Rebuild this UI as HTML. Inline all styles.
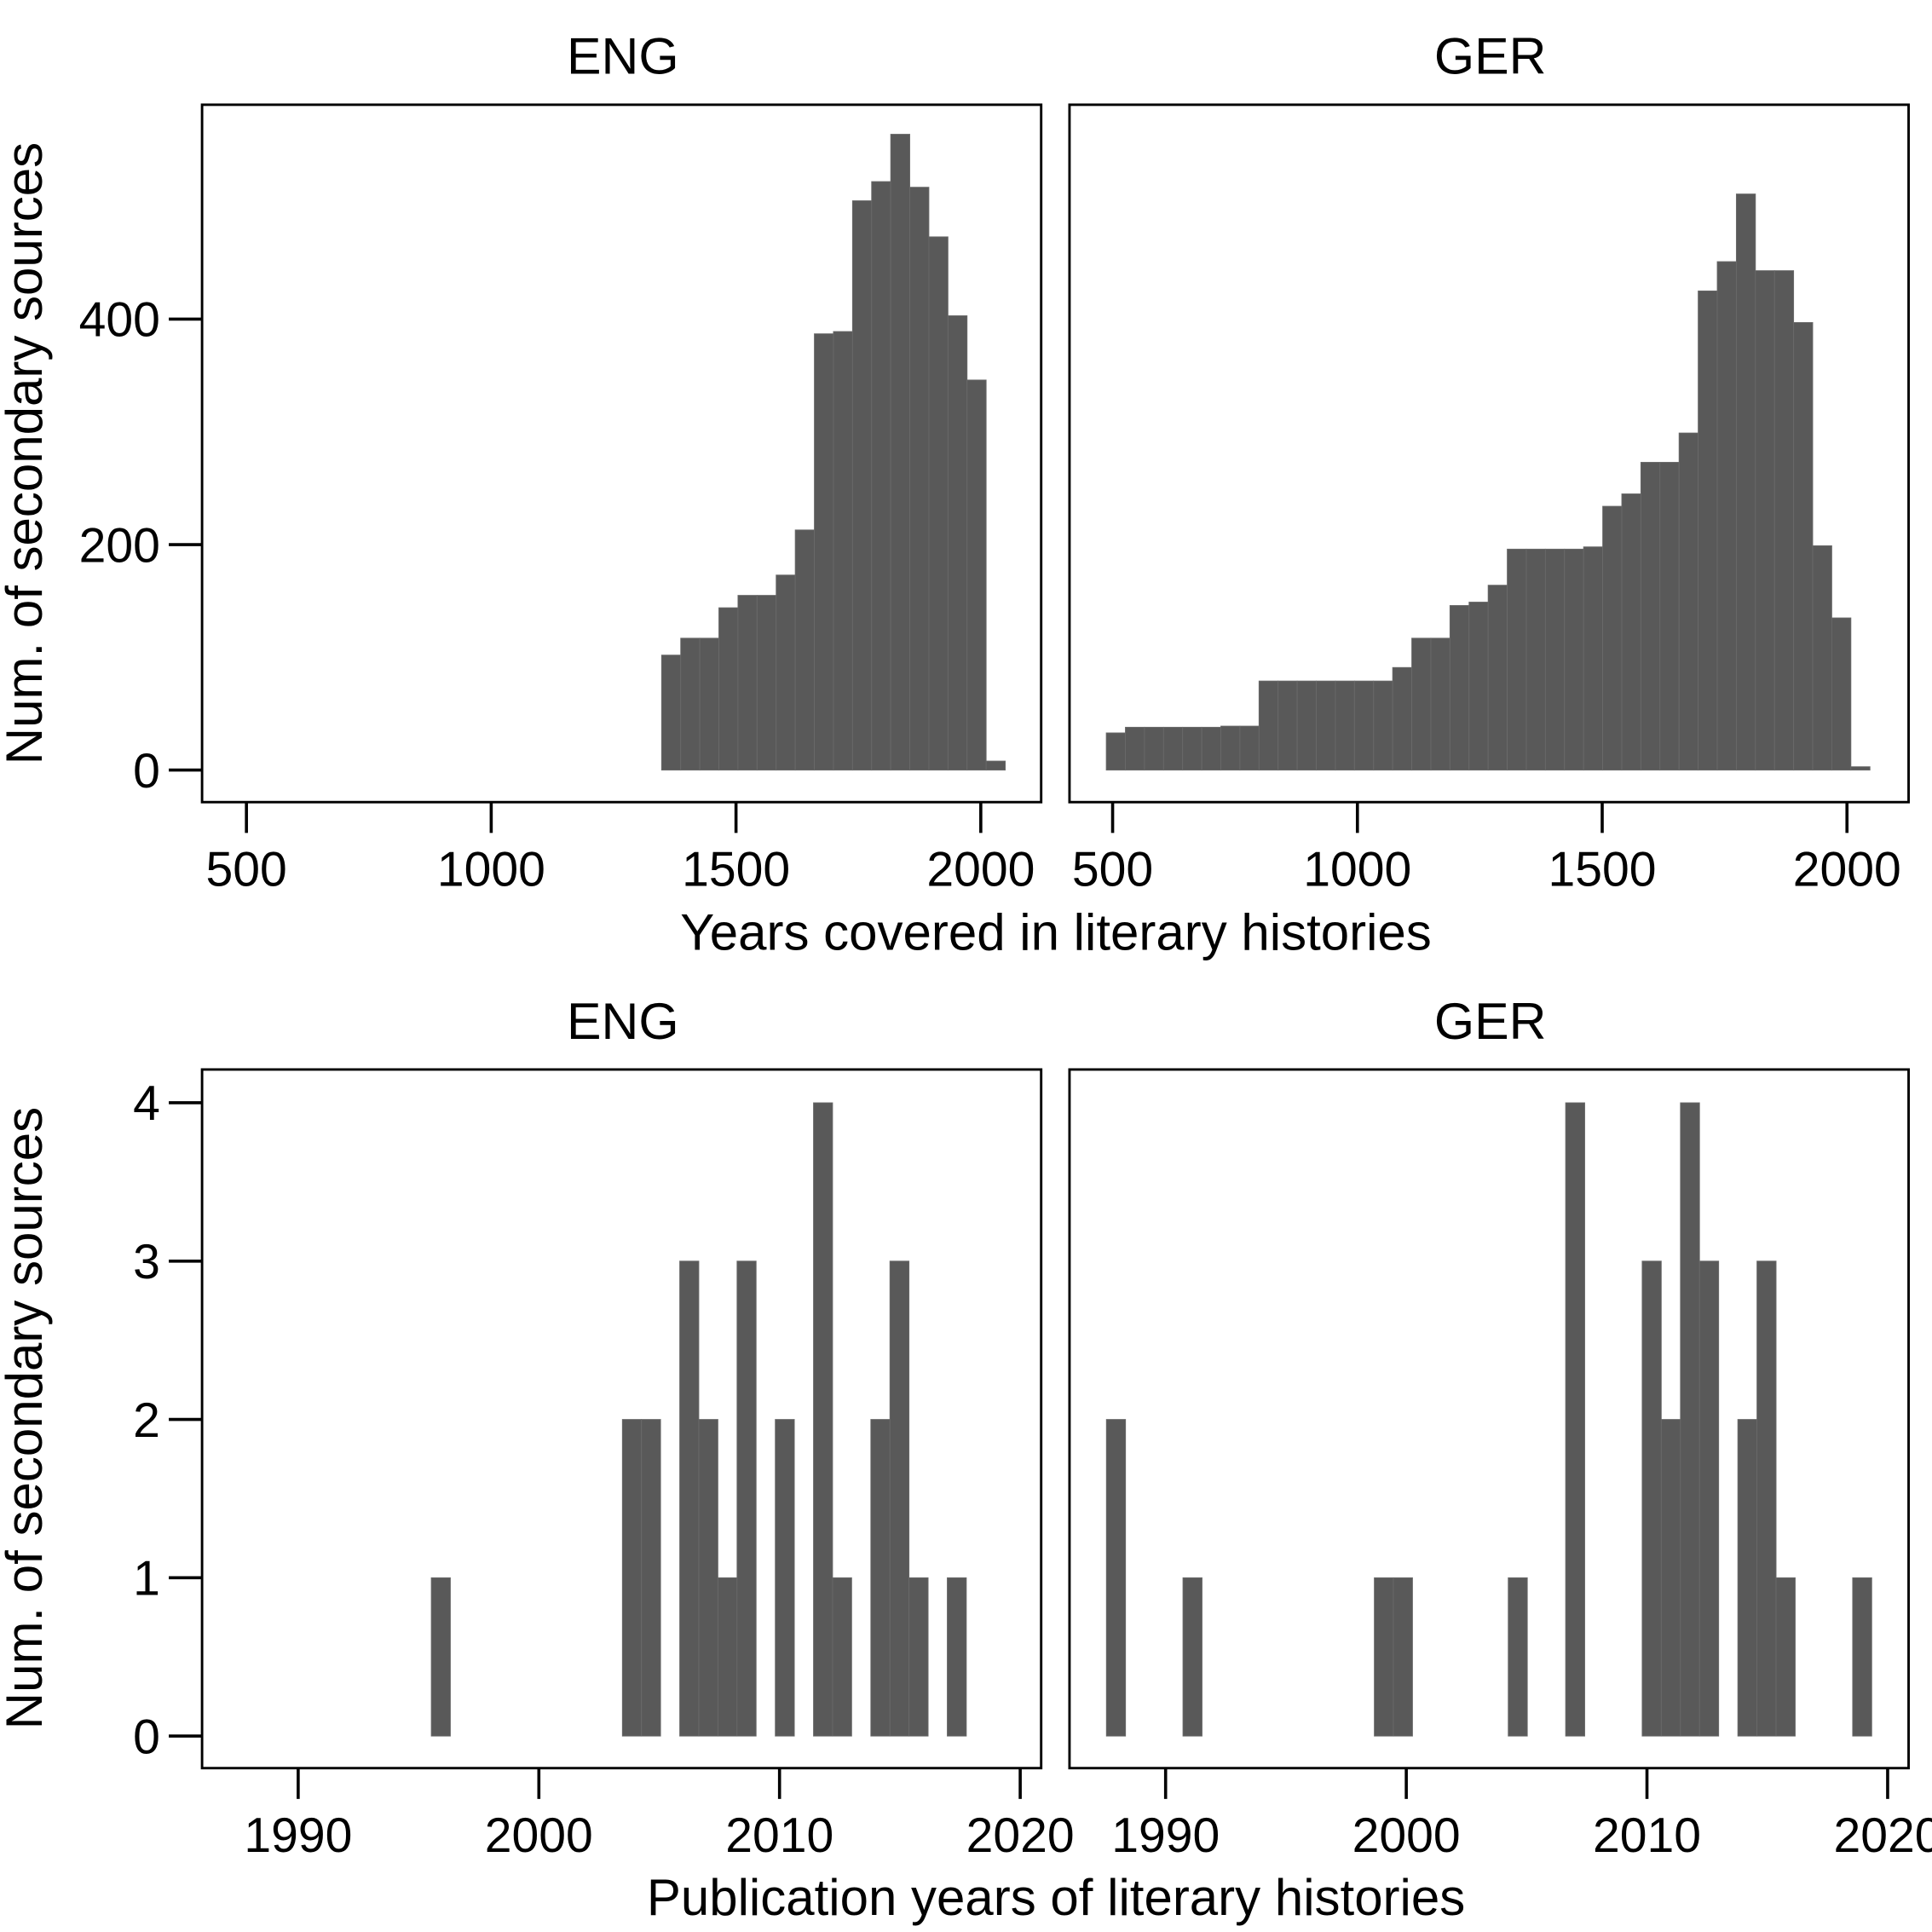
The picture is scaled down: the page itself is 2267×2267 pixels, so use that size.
<!DOCTYPE html>
<html><head><meta charset="utf-8"><style>
html,body{margin:0;padding:0;background:#fff}
svg{display:block}
text{font-family:"Liberation Sans",Arial,sans-serif;fill:#000}
</style></head><body>
<svg id="chart" width="2267" height="2267" viewBox="0 0 1568 1568" xmlns="http://www.w3.org/2000/svg"></svg>
<script>
// ---- data ----
const topXTicks = [500, 1000, 1500, 2000];
const topYTicks = [0, 200, 400];
const engCoveredStart = 1348;
const engCoveredWidth = 39;
const engCoveredCounts = [102,117,117,144,155,155,173,213,387,389,505,522,564,517,473,403,346,8];
const gerCoveredStart = 487;
const gerCoveredWidth = 39;
const gerCoveredCounts = [33,38,38,38,38,38,39,39,79,79,79,79,79,79,79,91,117,117,146,149,164,196,196,196,196,198,234,245,273,273,299,425,451,511,443,443,397,199,135,3];

const botXTicks = [1990, 2000, 2010, 2020];
const botYTicks = [0, 1, 2, 3, 4];
const engPubStart = 1995.53;
const engPubWidth = 0.794;
const engPubCounts = [1,0,0,0,0,0,0,0,0,0,2,2,0,3,2,1,3,0,2,0,4,1,0,2,3,1,0,1];
const gerPubStart = 1987.54;
const gerPubWidth = 0.795;
const gerPubCounts = [2,0,0,0,1,0,0,0,0,0,0,0,0,0,1,1,0,0,0,0,0,1,0,0,4,0,0,0,3,2,4,3,0,2,3,1,0,0,0,1];

const panelTitles = ["ENG", "GER"];

const NS = "http://www.w3.org/2000/svg";
const svg = document.getElementById("chart");
function mk(tag, attrs, parent) {
  const e = document.createElementNS(NS, tag);
  for (const k in attrs) e.setAttribute(k, attrs[k]);
  (parent || svg).appendChild(e);
  return e;
}

function panel(opts) {
  const g = mk("g", {});
  
  
  const {x0, x1, y0, y1, xv0, xpx0, xscale, yzero, yscale} = opts;
  const X = v => xpx0 + (v - xv0) * xscale;
  const Y = v => yzero - v * yscale;
  opts.counts.forEach((c, i) => {
    if (c <= 0) return;
    const a = X(opts.start + i * opts.width), b = X(opts.start + (i + 1) * opts.width);
    const r = mk("rect", {x: a, y: Y(c), width: b - a, height: Y(0) - Y(c), fill: "#595959", stroke: "#6a6a6a", "stroke-width": 0.6}, g);
    
    
  });
  const f = mk("rect", {x: x0, y: y0, width: x1 - x0, height: y1 - y0, fill: "none", stroke: "#000", "stroke-width": 2}, g);
  
  
  opts.xticks.forEach(t => {
    const px = X(t);
    mk("line", {x1: px, x2: px, y1: y1, y2: y1 + 25, stroke: "#000", "stroke-width": 2.5}, g);
    const tx = mk("text", {x: px, y: y1 + 68, "font-size": 39.5, "text-anchor": "middle"}, g);
    tx.textContent = t;
    
    
  });
  if (opts.yticks) {
    opts.yticks.forEach(t => {
      const py = Y(t);
      mk("line", {x1: x0 - 27, x2: x0, y1: py, y2: py, stroke: "#000", "stroke-width": 2.5}, g);
      const ty = mk("text", {x: x0 - 34, y: py + 14, "font-size": 39.5, "text-anchor": "end"}, g);
      ty.textContent = t;
      
      
    });
  }
  const tt = mk("text", {x: (x0 + x1) / 2 + 1, y: y0 - 25, "font-size": 42, "text-anchor": "middle"}, g);
  tt.textContent = opts.title;
  
  
}

const ts = 596 / 1500, tz = 625, tys = 366 / 400;
panel({name: "eng-years-covered-panel", title: panelTitles[0], x0: 164, x1: 845, y0: 85, y1: 651, xv0: 500, xpx0: 200, xscale: ts, yzero: tz, yscale: tys, start: engCoveredStart, width: engCoveredWidth, counts: engCoveredCounts, xticks: topXTicks, yticks: topYTicks});
panel({name: "ger-years-covered-panel", title: panelTitles[1], x0: 868, x1: 1549, y0: 85, y1: 651, xv0: 500, xpx0: 903, xscale: ts, yzero: tz, yscale: tys, start: gerCoveredStart, width: gerCoveredWidth, counts: gerCoveredCounts, xticks: topXTicks, yticks: null});
const bs = 586 / 30, bz = 1409, bys = 514 / 4;
panel({name: "eng-publication-panel", title: panelTitles[0], x0: 164, x1: 845, y0: 868, y1: 1435, xv0: 1990, xpx0: 242, xscale: bs, yzero: bz, yscale: bys, start: engPubStart, width: engPubWidth, counts: engPubCounts, xticks: botXTicks, yticks: botYTicks});
panel({name: "ger-publication-panel", title: panelTitles[1], x0: 868, x1: 1549, y0: 868, y1: 1435, xv0: 1990, xpx0: 946, xscale: bs, yzero: bz, yscale: bys, start: gerPubStart, width: gerPubWidth, counts: gerPubCounts, xticks: botXTicks, yticks: null});

function label(txt, x, y, rot, name) {
  const t = mk("text", {x: x, y: y, "font-size": 41.5, "text-anchor": "middle", transform: rot ? `rotate(-90 ${x} ${y})` : ""});
  t.textContent = txt;
  
  
}
label("Years covered in literary histories", 857, 771, false, "x-axis-title-top");
label("Publication years of literary histories", 857, 1554, false, "x-axis-title-bottom");
label("Num. of secondary sources", 34, 368, true, "y-axis-title-top");
label("Num. of secondary sources", 34, 1151, true, "y-axis-title-bottom");
</script>
</body></html>
